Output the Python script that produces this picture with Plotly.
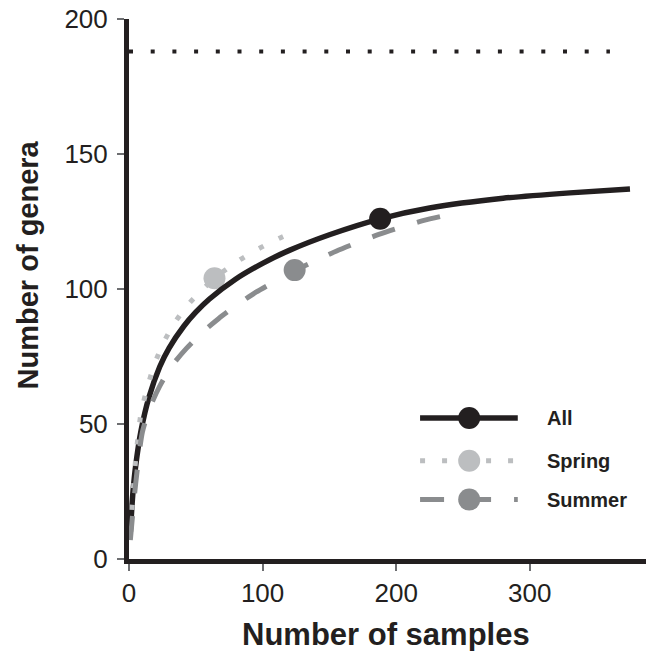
import plotly.graph_objects as go

# ---------------- data ----------------
all_x = [1, 2, 3, 5, 9, 15, 23, 30, 41, 50, 60, 80, 100, 120, 150, 188, 225, 280, 330, 375]
all_y = [10, 18, 25, 34.5, 47.5, 60, 71.2, 78.1, 86.2, 91.4, 96.2, 103.7, 109.5, 114.3, 120.1, 126, 130, 133.6, 135.6, 137]

spring_x = [1, 3, 5, 9, 14, 19, 26, 35, 45, 64, 82, 97, 112, 127]
spring_y = [10, 24, 37, 54, 64, 72, 80.3, 88.1, 94.7, 104, 110.5, 114.9, 118.7, 122]

summer_x = [1, 3, 5, 10, 16, 23, 32, 43, 55, 67, 80, 95, 110, 124, 140, 155, 187, 220, 248]
summer_y = [7, 18, 28, 47, 56.5, 64, 71.5, 78, 84, 89, 93.8, 98.8, 103, 106.8, 110.6, 114, 120.2, 125.3, 128.4]

# highlighted points (one per series)
point_x = {"All": 188, "Spring": 64, "Summer": 124}
point_y = {"All": 126, "Spring": 104, "Summer": 107}

# dotted reference level
ref_x = [0, 360]
ref_y = [188, 188]

series_names = ["All", "Spring", "Summer"]
x_ticks = [0, 100, 200, 300]
y_ticks = [0, 50, 100, 150, 200]

# ---------------- styles ----------------
INK = "#231f20"
C_ALL = "#231f20"
C_SPRING = "#bcbec0"
C_SUMMER = "#8a8c8e"
FONT = "Liberation Sans, Arial, sans-serif"

styles = {
    "All": dict(color=C_ALL, width=5.5, dash="solid"),
    "Spring": dict(color=C_SPRING, width=5, dash="5px,17px"),
    "Summer": dict(color=C_SUMMER, width=5, dash="24px,23px"),
}
data = {"All": (all_x, all_y), "Spring": (spring_x, spring_y), "Summer": (summer_x, summer_y)}

fig = go.Figure()

# reference dotted line
fig.add_trace(go.Scatter(x=ref_x, y=ref_y, mode="lines",
                         line=dict(color=INK, width=4, dash="4px,17.7px"),
                         hoverinfo="skip", showlegend=False))

# spring marker below the lines
fig.add_trace(go.Scatter(x=[point_x["Spring"]], y=[point_y["Spring"]], mode="markers",
                         marker=dict(color=C_SPRING, size=22, line=dict(width=0)),
                         showlegend=False))

for name in ["All", "Spring", "Summer"]:
    xs, ys = data[name]
    fig.add_trace(go.Scatter(x=xs, y=ys, mode="lines", name=name,
                             line=dict(shape="spline", smoothing=0.7, **styles[name]),
                             showlegend=False))

for name in ["Summer", "All"]:
    fig.add_trace(go.Scatter(x=[point_x[name]], y=[point_y[name]], mode="markers",
                             marker=dict(color=styles[name]["color"], size=22, line=dict(width=0)),
                             showlegend=False))

# ---------------- manual legend on an overlay axis (0..1) ----------------
leg_x0, leg_x1, leg_xm = 0.563, 0.752, 0.658
leg_ys = {"All": 0.261, "Spring": 0.182, "Summer": 0.110}
for name in series_names:
    yy = leg_ys[name]
    fig.add_trace(go.Scatter(x=[leg_x0, leg_x1], y=[yy, yy], mode="lines",
                             line=styles[name], xaxis="x2", yaxis="y2",
                             showlegend=False, hoverinfo="skip"))
    fig.add_trace(go.Scatter(x=[leg_xm], y=[yy], mode="markers",
                             marker=dict(color=styles[name]["color"], size=22),
                             xaxis="x2", yaxis="y2", showlegend=False, hoverinfo="skip"))
    fig.add_annotation(x=0.804, y=yy, xref="paper", yref="paper", text=name,
                       showarrow=False, xanchor="left", yanchor="middle",
                       font=dict(family=FONT, size=20, color=INK, weight="bold"))

# axis titles
fig.add_annotation(x=0.497, y=-0.14, xref="paper", yref="paper", text="Number of samples",
                   showarrow=False, xanchor="center", yanchor="middle",
                   font=dict(family=FONT, size=31, color=INK, weight="bold"))
fig.add_annotation(x=-0.195, y=0.544, xref="paper", yref="paper", text="Number of genera",
                   showarrow=False, xanchor="center", yanchor="middle", textangle=-90,
                   font=dict(family=FONT, size=29, color=INK, weight="bold"))

axis_common = dict(showgrid=False, zeroline=False, showline=True, linecolor=INK, linewidth=5,
                   ticks="outside", ticklen=7, tickwidth=2, tickcolor="#6d6e71",
                   tickfont=dict(family=FONT, size=26, color=INK))

fig.update_layout(
    width=651, height=651,
    margin=dict(l=129, r=5, t=19, b=92),
    paper_bgcolor="white", plot_bgcolor="white",
    xaxis=dict(range=[0, 387], tickvals=x_ticks, **axis_common),
    yaxis=dict(range=[0, 200], tickvals=y_ticks, ticklabelstandoff=4, **axis_common),
    xaxis2=dict(overlaying="x", range=[0, 1], visible=False),
    yaxis2=dict(overlaying="y", range=[0, 1], visible=False),
    showlegend=False,
)

fig.write_html("out.html")
